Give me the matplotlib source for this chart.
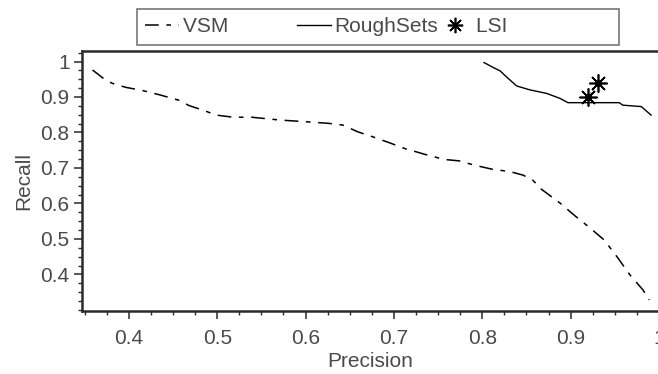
import matplotlib
matplotlib.use("Agg")
import matplotlib.pyplot as plt
from matplotlib.ticker import MultipleLocator
from matplotlib.lines import Line2D

# values
vsm_precision = [0.359, 0.375, 0.384, 0.397, 0.416, 0.435, 0.458, 0.468, 0.486, 0.499,
                 0.518, 0.539, 0.571, 0.590, 0.625, 0.642, 0.659, 0.677, 0.695, 0.712,
                 0.737, 0.757, 0.774, 0.791, 0.812, 0.831, 0.846, 0.857, 0.867, 0.888,
                 0.905, 0.921, 0.938, 0.953, 0.967, 0.982, 0.989]
vsm_recall = [0.976, 0.945, 0.936, 0.927, 0.918, 0.906, 0.890, 0.876, 0.861, 0.849,
              0.843, 0.843, 0.835, 0.832, 0.826, 0.821, 0.802, 0.787, 0.771, 0.755,
              0.737, 0.724, 0.720, 0.708, 0.696, 0.690, 0.680, 0.666, 0.640, 0.601,
              0.565, 0.533, 0.497, 0.448, 0.399, 0.356, 0.328]

rough_precision = [0.802, 0.814, 0.820, 0.829, 0.839, 0.854, 0.873, 0.888, 0.897, 0.910,
                   0.955, 0.959, 0.980, 0.991]
rough_recall = [0.997, 0.981, 0.974, 0.953, 0.931, 0.920, 0.910, 0.896, 0.884, 0.884,
                0.884, 0.877, 0.873, 0.849]

lsi_precision = [0.920, 0.931]
lsi_recall = [0.901, 0.940]

x_ticks = [0.4, 0.5, 0.6, 0.7, 0.8, 0.9, 1.0]
x_labels = ["0.4", "0.5", "0.6", "0.7", "0.8", "0.9", "1"]
y_ticks = [0.4, 0.5, 0.6, 0.7, 0.8, 0.9, 1.0]
y_labels = ["0.4", "0.5", "0.6", "0.7", "0.8", "0.9", "1"]

plt.rcParams['font.family'] = ['Liberation Sans', 'DejaVu Sans']
text_col = '#4a4a4a'
axis_col = '#2a2a2a'

fig = plt.figure(figsize=(6.58, 3.74), dpi=100)
ax = fig.add_axes([82 / 658, 63 / 374, 577 / 658, 260 / 374])

star = (8, 2, 0)
ax.plot(vsm_precision, vsm_recall, color='black', lw=1.1,
        dashes=(9, 5, 3, 5))
ax.plot(rough_precision, rough_recall, color='black', lw=1.0)
ax.plot(lsi_precision, lsi_recall, color='#777777', lw=1.0, ls=':')
ax.plot(lsi_precision, lsi_recall, ls='none', marker=star, ms=13, mew=1.2,
        color='black')
ax.plot(lsi_precision, lsi_recall, ls='none', marker='o', ms=4, color='black')

ax.set_xlim(0.347, 1.0)
ax.set_ylim(0.297, 1.0296)

ax.set_xticks(x_ticks)
ax.set_xticklabels(x_labels)
ax.set_yticks(y_ticks)
ax.set_yticklabels(y_labels)
ax.xaxis.set_minor_locator(MultipleLocator(0.025))
ax.yaxis.set_minor_locator(MultipleLocator(0.025))

ax.tick_params(which='major', direction='out', length=6, width=1.1,
               color=axis_col, labelsize=15, labelcolor=text_col)
ax.tick_params(axis='x', which='major', pad=7)
ax.tick_params(axis='y', which='major', pad=3)
ax.tick_params(which='minor', direction='out', length=3, width=1.0,
               color=axis_col)
for s in ax.spines.values():
    s.set_linewidth(1.8)
    s.set_color(axis_col)

ax.set_xlabel('Precision', fontsize=15, color=text_col, labelpad=3)
ax.set_ylabel('Recall', fontsize=15, color=text_col, labelpad=5)

handles = [
    Line2D([], [], color='black', lw=1.1, dashes=(9, 5, 3, 5)),
    Line2D([], [], color='black', lw=1.0),
    Line2D([], [], ls='none', marker=star, ms=11, mew=1.2, color='black'),
]
labels = ['VSM' + ' ' * 12, 'RoughSets', 'LSI' + ' ' * 18]
leg = fig.legend(handles, labels, loc='upper left',
                 bbox_to_anchor=(137 / 658, 1 - 9 / 374), ncol=3,
                 fontsize=15, frameon=True, fancybox=False,
                 handlelength=1.6, handletextpad=0.2, columnspacing=0.0,
                 borderpad=0.4, borderaxespad=0)
leg.get_frame().set_edgecolor('#555555')
leg.get_frame().set_linewidth(1.2)
for t in leg.get_texts():
    t.set_color(text_col)

fig.savefig('out.png', dpi=100)
